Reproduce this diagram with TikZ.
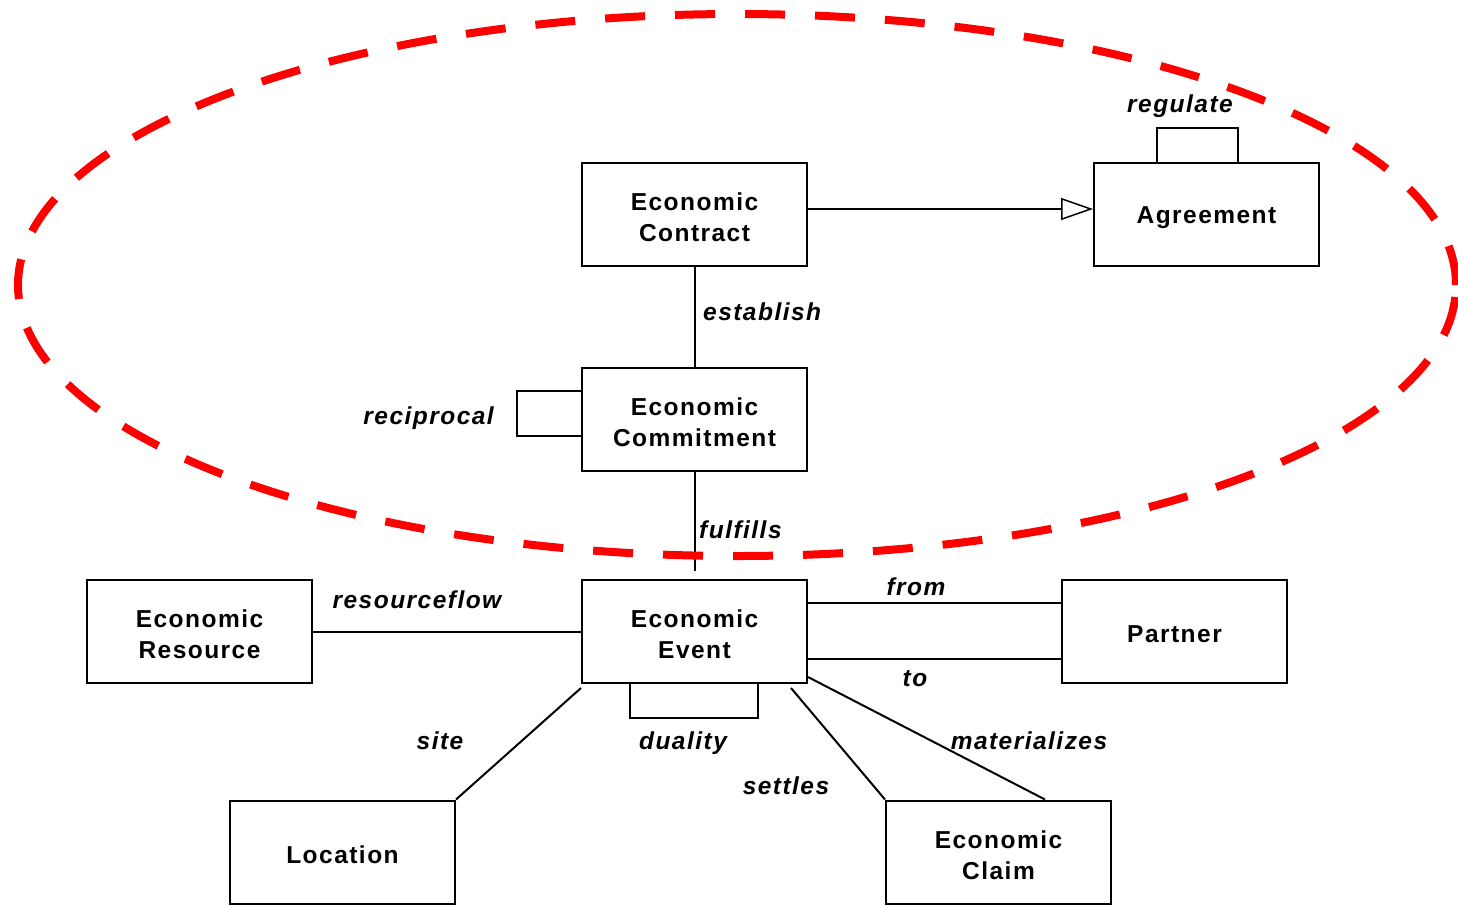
\documentclass[tikz,border=0pt]{standalone}
\usepackage{fontspec}
\setmainfont{Liberation Sans}[LetterSpace=6]
\usetikzlibrary{arrows.meta}
\newcommand{\lowtext}[1]{\raisebox{-3pt}[\height][\depth]{#1}}
\newcommand{\twolines}[2]{\lowtext{\parbox{220pt}{\centering #1\\#2}}}
\begin{document}
\begin{tikzpicture}[x=1pt,y=-1pt,
  box/.style={draw=black, line width=2pt, minimum width=225pt, minimum height=103pt, inner sep=0pt, align=center,
    font=\fontsize{24.5}{31}\selectfont\bfseries},
  conn/.style={draw=black, line width=2pt},
  lbl/.style={anchor=base, inner sep=0pt, font=\fontsize{24.5}{31}\selectfont\bfseries\itshape}
]
\useasboundingbox (0,0) rectangle (1458,906);
\fill[white] (0,0) rectangle (1458,906);

\node[box] (contract) at (694.5,214.5) {\twolines{Economic}{Contract}};
\node[box] (agreement) at (1206.5,214.5) {\lowtext{Agreement}};
\node[box] (commit) at (694.5,419.5) {\twolines{Economic}{Commitment}};
\node[box] (event) at (694.5,631.5) {\twolines{Economic}{Event}};
\node[box] (resource) at (199.5,631.5) {\twolines{Economic}{Resource}};
\node[box] (partner) at (1174.5,631.5) {\lowtext{Partner}};
\node[box] (location) at (342.5,852) {\lowtext{Location}};
\node[box] (claim) at (998.5,852) {\twolines{Economic}{Claim}};

% generalisation
\draw[conn, -{Triangle[open, length=32pt, width=22pt, line width=1.5pt, fill=white]}]
  ([yshift=5.5pt]contract.east) -- ([yshift=5.5pt]agreement.west);

% regulate loop
\draw[conn] ([xshift=-49.5pt]agreement.north) -- ++(0pt,34pt) -| ([xshift=31.5pt]agreement.north);
\node[lbl] (lregulate) at (1180,112) {regulate};

% establish
\draw[conn] (contract.south) -- (commit.north);
\node[lbl, anchor=base west] (lestablish) at (703,320) {establish};

% reciprocal loop
\draw[conn] ([yshift=28.5pt]commit.west) -- ++(-64pt,0pt) |- ([yshift=-16.5pt]commit.west);
\node[lbl, anchor=base east] (lreciprocal) at (494,424) {reciprocal};

% fulfills
\draw[conn] (commit.south) -- ([yshift=8pt]event.north);
\node[lbl, anchor=base west] (lfulfills) at (699,538) {fulfills};

% resourceflow
\draw[conn] (resource.east) -- (event.west);
\node[lbl] (lresourceflow) at (417,608) {resourceflow};

% from / to
\draw[conn] ([yshift=28.5pt]event.east) -- ([yshift=28.5pt]partner.west);
\node[lbl] (lfrom) at (916,595) {from};
\draw[conn] ([yshift=-27.5pt]event.east) -- ([yshift=-27.5pt]partner.west);
\node[lbl] (lto) at (915,686) {to};

% duality loop
\draw[conn] ([xshift=-64.5pt]event.south) -- ++(0pt,-34pt) -| ([xshift=63.5pt]event.south);
\node[lbl] (lduality) at (683,749) {duality};

% site
\draw[conn] ([yshift=-4pt]event.south west) -- (location.north east);
\node[lbl] (lsite) at (440,749) {site};

% settles
\draw[conn] ([xshift=-17pt,yshift=-4pt]event.south east) -- (claim.north west);
\node[lbl] (lsettles) at (786,794) {settles};

% materializes
\draw[conn] ([yshift=7pt]event.south east) -- ([xshift=46.5pt]claim.north);
\node[lbl] (lmaterializes) at (1029,749) {materializes};

% dashed ellipse
\draw[red, line width=8pt, dash pattern=on 40pt off 30pt] (737,285) ellipse [x radius=719pt, y radius=271pt];
\end{tikzpicture}
\end{document}
